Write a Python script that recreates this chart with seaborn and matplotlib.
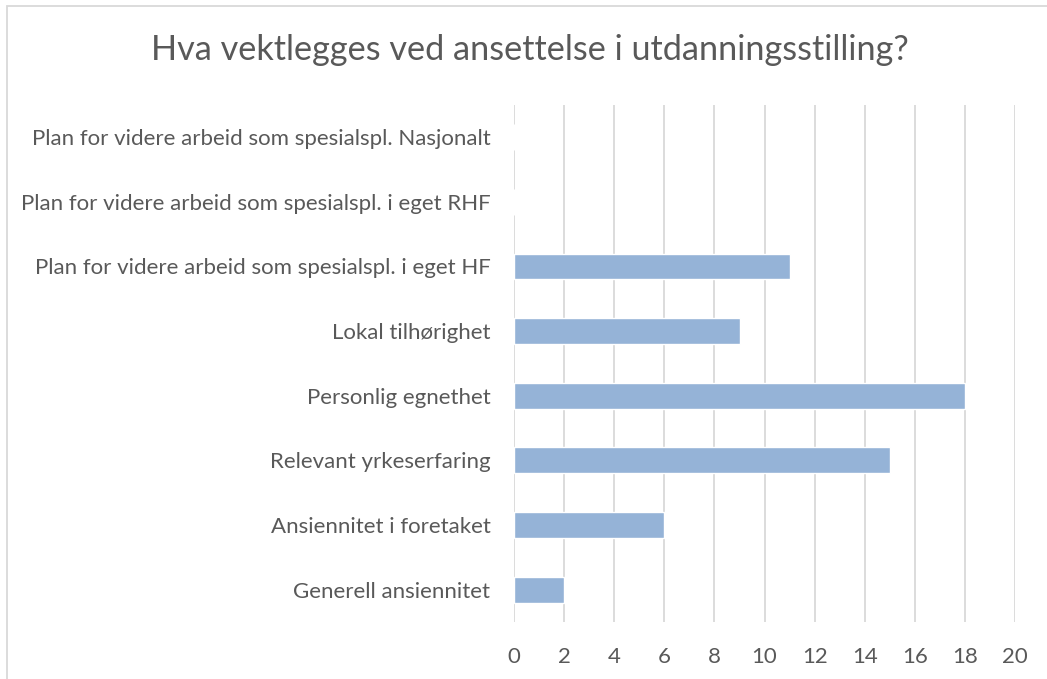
import matplotlib
matplotlib.use("Agg")
import matplotlib.pyplot as plt
import seaborn as sns
import pandas as pd

categories = [
    "Plan for videre arbeid som spesialspl. Nasjonalt",
    "Plan for videre arbeid som spesialspl. i eget RHF",
    "Plan for videre arbeid som spesialspl. i eget HF",
    "Lokal tilhørighet",
    "Personlig egnethet",
    "Relevant yrkeserfaring",
    "Ansiennitet i foretaket",
    "Generell ansiennitet",
]
values = [0, 0, 11, 9, 18, 15, 6, 2]
x_ticks = list(range(0, 21, 2))

df = pd.DataFrame({"Kategori": categories, "Antall": values})

sns.set_theme(style="white")
plt.rcParams["font.family"] = ["Lato", "DejaVu Sans"]
text_color = "#595959"

fig = plt.figure(figsize=(10.47, 6.79), dpi=100)
ax = fig.add_axes([0.491, 0.084, 0.4785, 0.7616])

sns.barplot(data=df, x="Antall", y="Kategori", orient="h", color="#95B3D7",
            saturation=1, width=0.4, ax=ax)

ax.set_xlim(0, 20)
ax.set_ylim(7.5, -0.5)
ax.set_xticks(x_ticks)
ax.set_xticklabels([str(t) for t in x_ticks])
ax.grid(axis="x", color="#D9D9D9", linewidth=1.3)
ax.set_axisbelow(True)
for s in ax.spines.values():
    s.set_visible(False)
ax.set_xlabel("")
ax.set_ylabel("")
ax.tick_params(axis="y", length=0, pad=17, labelsize=16, labelcolor=text_color)
ax.tick_params(axis="x", length=0, pad=18, labelsize=16, labelcolor=text_color)

fig.text(0.506, 0.927, "Hva vektlegges ved ansettelse i utdanningsstilling?",
         ha="center", va="center", fontsize=24.7, color=text_color)

# outer chart border (right and bottom fall outside the picture)
border = plt.Rectangle((7 / 1047, -0.05), 1.2, 1 - 6 / 679 + 0.05,
                       transform=fig.transFigure, fill=False,
                       edgecolor="#D9D9D9", linewidth=1.3)
fig.add_artist(border)

fig.savefig("out.png", dpi=100)
